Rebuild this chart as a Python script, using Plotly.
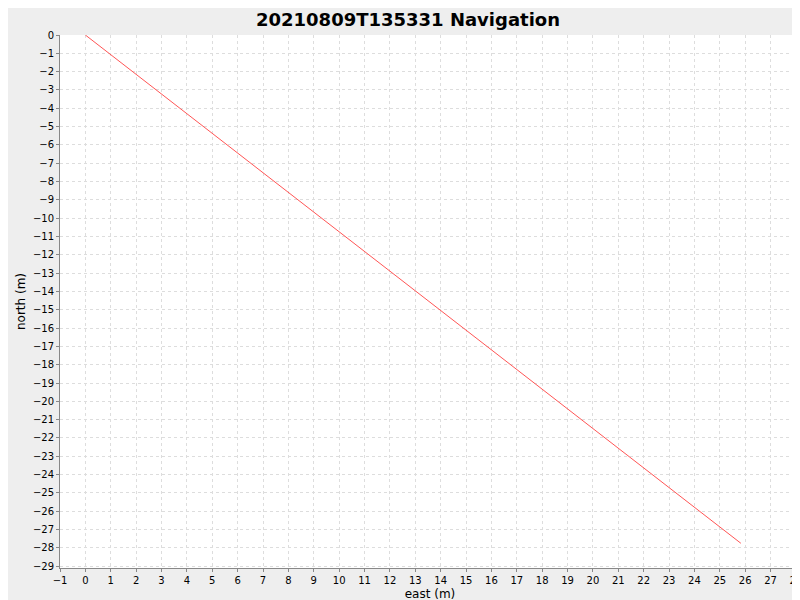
import plotly.graph_objects as go

east = [0.0, 25.83]
north = [0.0, -27.75]

fig = go.Figure()
fig.add_trace(go.Scatter(x=east, y=north, mode="lines", line=dict(color="#ff5555", width=1), showlegend=False))

fig.update_layout(
    width=800, height=600,
    paper_bgcolor="#eeeeee", plot_bgcolor="white",
    title=dict(text="<b>20210809T135331 Navigation</b>", x=0.5, y=0.98, yanchor="middle",
               automargin=False, font=dict(family="DejaVu Sans", size=18, color="black")),
    margin=dict(l=52, r=8, t=27, b=40, autoexpand=False),
    font=dict(family="DejaVu Sans", size=10, color="black"),
)
axis_style = dict(showgrid=True, gridcolor="#dddddd", griddash="3px,3px", gridwidth=1,
                  zeroline=False, showline=True, linecolor="#888888", ticks="outside",
                  ticklen=3, tickcolor="#888888", dtick=1, automargin=False)
fig.update_xaxes(title=dict(text="east (m)", font=dict(size=12), standoff=4),
                 range=[-1.0, 28.16], **axis_style)
fig.update_yaxes(title=dict(text="north (m)", font=dict(size=12), standoff=4),
                 range=[-29.1, 0], **axis_style)
fig.write_html("out.html")
